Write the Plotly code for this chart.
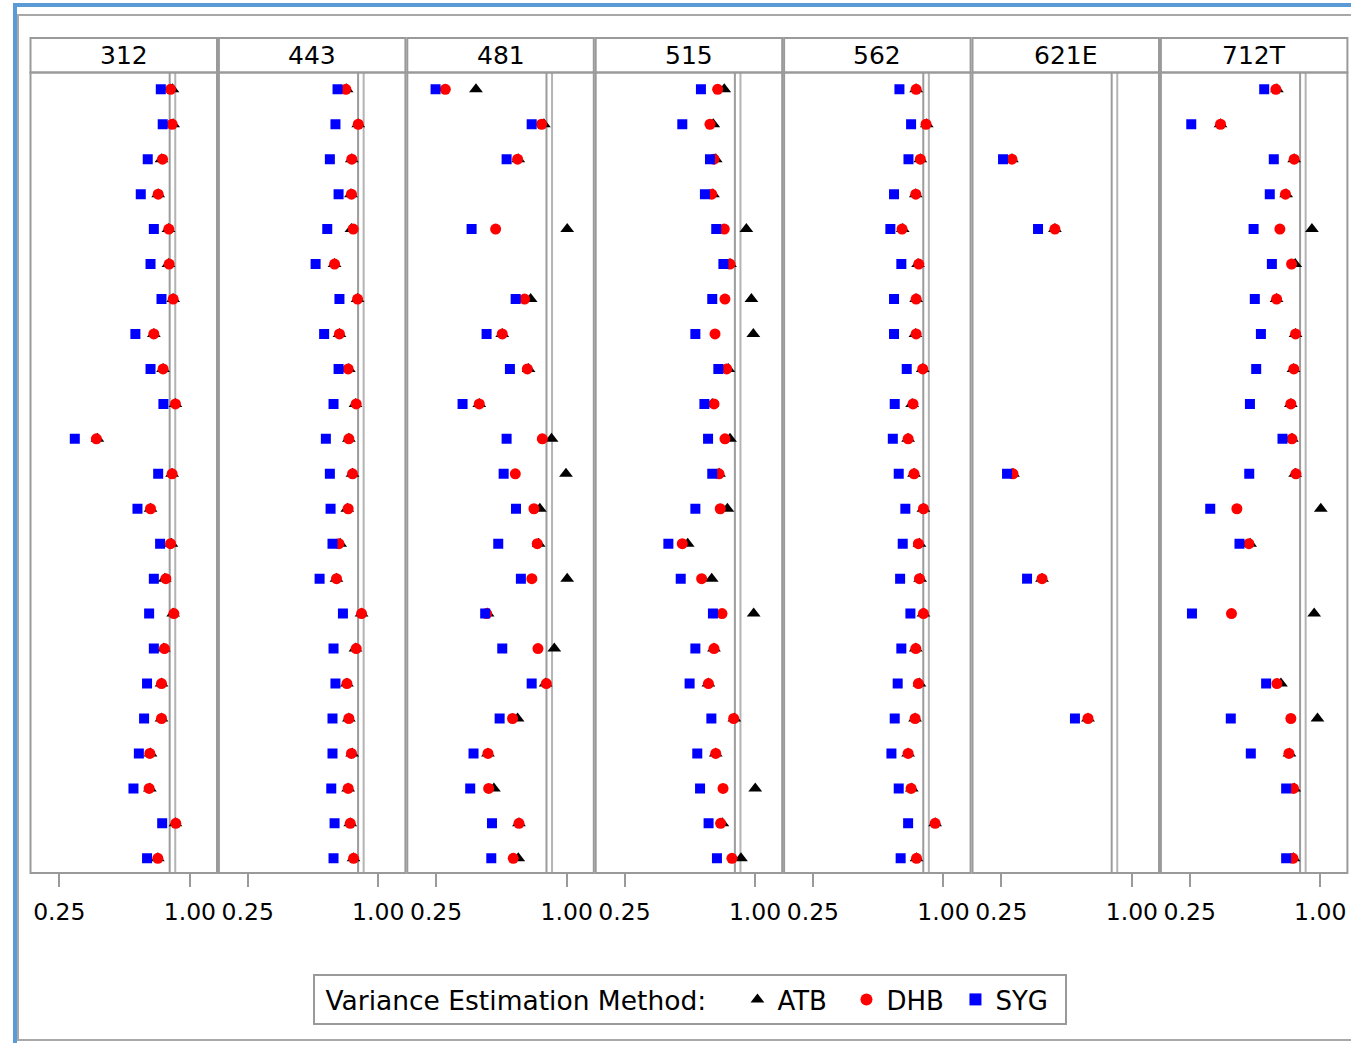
import plotly.graph_objects as go

W, H = 1351, 1043
FONT = "DejaVu Sans"

panels = ["312", "443", "481", "515", "562", "621E", "712T"]
rows = list(range(23))
tick_vals = [0.25, 1.00]
tick_text = ["0.25", "1.00"]
ref_lines = [0.884, 0.916]
N = None

# ---- data: ATB (triangle), DHB (circle), SYG (square) per panel ----
atb_312 = [0.900, 0.904, 0.837, 0.818, 0.877, 0.877, 0.904, 0.793, 0.846, 0.917, 0.469, 0.898, 0.774, 0.894, 0.856, 0.904, 0.850, 0.837, 0.837, 0.774, 0.770, 0.917, 0.816]
dhb_312 = [0.889, 0.898, 0.843, 0.818, 0.879, 0.881, 0.904, 0.793, 0.846, 0.917, 0.463, 0.898, 0.774, 0.889, 0.862, 0.908, 0.854, 0.837, 0.837, 0.770, 0.766, 0.919, 0.816]
syg_312 = [0.833, 0.844, 0.758, 0.718, 0.793, 0.774, 0.837, 0.687, 0.774, 0.848, 0.339, 0.818, 0.699, 0.829, 0.793, 0.766, 0.793, 0.754, 0.737, 0.707, 0.676, 0.841, 0.754]

atb_443 = [0.818, 0.885, 0.848, 0.843, 0.846, 0.749, 0.881, 0.777, 0.831, 0.869, 0.831, 0.852, 0.822, 0.781, 0.760, 0.904, 0.869, 0.820, 0.831, 0.850, 0.827, 0.839, 0.858]
dhb_443 = [0.814, 0.885, 0.848, 0.846, 0.856, 0.749, 0.881, 0.777, 0.827, 0.873, 0.831, 0.852, 0.827, 0.774, 0.760, 0.904, 0.873, 0.820, 0.831, 0.846, 0.827, 0.839, 0.858]
syg_443 = [0.766, 0.754, 0.722, 0.772, 0.707, 0.640, 0.777, 0.689, 0.772, 0.743, 0.699, 0.722, 0.726, 0.737, 0.663, 0.797, 0.743, 0.754, 0.737, 0.737, 0.730, 0.749, 0.743]

atb_481 = [0.479, 0.869, 0.722, N, 1.003, N, 0.793, 0.630, 0.781, 0.498, 0.913, 0.996, 0.846, 0.839, 1.003, 0.546, 0.929, 0.879, 0.718, 0.548, 0.582, 0.726, 0.722]
dhb_481 = [0.303, 0.856, 0.718, N, 0.592, N, 0.758, 0.630, 0.774, 0.498, 0.860, 0.705, 0.812, 0.831, 0.800, 0.540, 0.835, 0.883, 0.689, 0.548, 0.552, 0.726, 0.693]
syg_481 = [0.247, 0.799, 0.655, N, 0.454, N, 0.707, 0.540, 0.674, 0.402, 0.655, 0.638, 0.709, 0.607, 0.737, 0.532, 0.630, 0.799, 0.615, 0.465, 0.446, 0.571, 0.567]

atb_515 = [0.823, 0.760, 0.774, 0.758, 0.950, 0.856, 0.979, 0.990, 0.846, 0.754, 0.856, 0.793, 0.841, 0.613, 0.751, 0.992, 0.764, 0.732, 0.881, 0.774, 1.001, 0.812, 0.919]
dhb_515 = [0.785, 0.741, 0.764, 0.751, 0.823, 0.856, 0.827, 0.770, 0.837, 0.764, 0.827, 0.793, 0.800, 0.582, 0.693, 0.810, 0.764, 0.732, 0.877, 0.774, 0.816, 0.802, 0.867]
syg_515 = [0.689, 0.582, 0.741, 0.712, 0.777, 0.818, 0.754, 0.657, 0.789, 0.709, 0.730, 0.754, 0.657, 0.502, 0.573, 0.758, 0.657, 0.624, 0.749, 0.668, 0.684, 0.733, 0.781]

atb_562 = [0.843, 0.904, 0.867, 0.841, 0.766, 0.854, 0.843, 0.839, 0.881, 0.820, 0.797, 0.831, 0.885, 0.862, 0.866, 0.885, 0.841, 0.862, 0.837, 0.797, 0.818, 0.952, 0.845]
dhb_562 = [0.843, 0.900, 0.867, 0.841, 0.762, 0.858, 0.843, 0.843, 0.881, 0.825, 0.797, 0.831, 0.885, 0.856, 0.862, 0.885, 0.841, 0.856, 0.837, 0.797, 0.814, 0.952, 0.845]
syg_562 = [0.747, 0.814, 0.799, 0.716, 0.695, 0.758, 0.716, 0.716, 0.789, 0.720, 0.709, 0.743, 0.781, 0.766, 0.751, 0.810, 0.758, 0.737, 0.720, 0.701, 0.743, 0.797, 0.754]

atb_621E = [N, N, 0.311, N, 0.558, N, N, N, N, N, N, 0.317, N, N, 0.484, N, N, N, 0.748, N, N, N, N]
dhb_621E = [N, N, 0.311, N, 0.558, N, N, N, N, N, N, 0.317, N, N, 0.484, N, N, N, 0.748, N, N, N, N]
syg_621E = [N, N, 0.260, N, 0.461, N, N, N, N, N, N, 0.283, N, N, 0.398, N, N, N, 0.673, N, N, N, N]

atb_712T = [0.751, 0.427, 0.850, 0.804, 0.952, 0.856, 0.749, 0.858, 0.846, 0.831, 0.837, 0.856, 1.003, 0.597, N, 0.965, N, 0.774, 0.984, 0.823, 0.850, N, 0.846]
dhb_712T = [0.745, 0.427, 0.850, 0.800, 0.768, 0.835, 0.749, 0.858, 0.848, 0.831, 0.837, 0.860, 0.521, 0.590, N, 0.490, N, 0.751, 0.831, 0.820, 0.846, N, 0.843]
syg_712T = [0.678, 0.259, 0.733, 0.710, 0.617, 0.722, 0.624, 0.659, 0.632, 0.596, 0.783, 0.592, 0.368, 0.536, N, 0.263, N, 0.689, 0.486, 0.601, 0.804, N, 0.804]

atb = [atb_312, atb_443, atb_481, atb_515, atb_562, atb_621E, atb_712T]
dhb = [dhb_312, dhb_443, dhb_481, dhb_515, dhb_562, dhb_621E, dhb_712T]
syg = [syg_312, syg_443, syg_481, syg_515, syg_562, syg_621E, syg_712T]

series = [
    ("ATB", atb, "triangle-up", "#000000", 12),
    ("DHB", dhb, "circle", "#ff0000", 11),
    ("SYG", syg, "square", "#0000ff", 10),
]

# ---- geometry (pixels) ----
def px(x):
    return x / W

def py(y):
    return 1 - y / H

panel_w = 186.5
step = 188.4
left0 = 30.5
head_top, plot_top, plot_bot = 38, 72.5, 873
xr = [0.0846, 1.1558]
GRAY = "#9a9a9a"
NB = "\u00a0"

fig = go.Figure()
layout = dict(
    width=W, height=H, margin=dict(l=0, r=0, t=0, b=0),
    paper_bgcolor="white", plot_bgcolor="white",
    font=dict(family=FONT, color="black"),
    yaxis=dict(domain=[py(plot_bot), py(plot_top)], range=[22.42, -0.48],
               visible=False, anchor="x", fixedrange=True),
)
shapes = []
annotations = []

for k, p in enumerate(panels):
    xa = "x" if k == 0 else f"x{k + 1}"
    L = left0 + step * k
    R = L + panel_w
    layout["xaxis" if k == 0 else f"xaxis{k + 1}"] = dict(
        domain=[px(L), px(R)], range=xr, anchor="y",
        tickmode="array", tickvals=tick_vals, ticktext=tick_text,
        ticks="outside", ticklen=13, tickwidth=2, tickcolor=GRAY,
        tickfont=dict(family=FONT, size=23.5, color="black"),
        showgrid=False, zeroline=False, showline=False, ticklabelstandoff=5,
    )
    for v, c in zip(ref_lines, ["#9c9c9c", "#b4b4b4"]):
        shapes.append(dict(type="line", xref=xa, yref="paper", x0=v, x1=v,
                           y0=py(plot_bot), y1=py(plot_top),
                           line=dict(color=c, width=2), layer="below"))
    shapes.append(dict(type="rect", xref="paper", yref="paper",
                       x0=px(L), x1=px(R), y0=py(plot_bot), y1=py(plot_top),
                       line=dict(color=GRAY, width=2)))
    shapes.append(dict(type="rect", xref="paper", yref="paper",
                       x0=px(L), x1=px(R), y0=py(plot_top), y1=py(head_top),
                       line=dict(color=GRAY, width=2)))
    annotations.append(dict(xref="paper", yref="paper", x=px((L + R) / 2),
                            y=py((head_top + plot_top) / 2 + 0.5), text=p,
                            showarrow=False, xanchor="center", yanchor="middle",
                            font=dict(family=FONT, size=25, color="black")))
    for name, data, sym, col, sz in series:
        fig.add_trace(go.Scatter(
            x=data[k], y=rows, mode="markers", name=name, legendgroup=name,
            showlegend=(k == 0), xaxis=xa, yaxis="y",
            marker=dict(symbol=sym, color=col, size=sz, line=dict(width=0)),
        ))

# outer frames
shapes.append(dict(type="rect", xref="paper", yref="paper",
                   x0=px(18), x1=px(1400), y0=py(1040), y1=py(15),
                   line=dict(color="#a8a8a8", width=2)))
shapes.append(dict(type="rect", xref="paper", yref="paper",
                   x0=px(15), x1=px(1420), y0=py(1100), y1=py(5),
                   line=dict(color="#5b9bd5", width=4)))

layout["shapes"] = shapes
layout["annotations"] = annotations
layout["legend"] = dict(
    orientation="h", x=px(313), xanchor="left", y=py(974), yanchor="top",
    bordercolor=GRAY, borderwidth=2, bgcolor="white",
    font=dict(family=FONT, size=26, color="black"),
    title=dict(text=NB + "Variance Estimation Method:" + NB * 3, side="left",
               font=dict(family=FONT, size=26.5, color="black")),
    itemsizing="constant", entrywidth=64, entrywidthmode="pixels",
)
fig.update_layout(**layout)
fig.write_html("out.html")
